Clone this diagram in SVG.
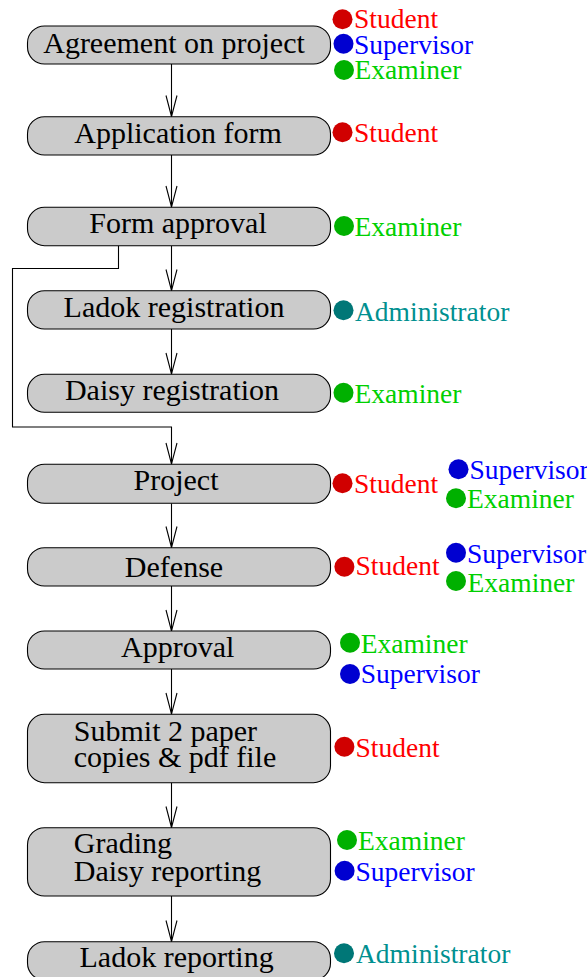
<svg xmlns="http://www.w3.org/2000/svg" width="587" height="977" viewBox="0 0 587 977">
<style>
.box{fill:#cbcbcb;stroke:#000;stroke-width:1.1}
.bt{font-family:"Liberation Serif","Times New Roman",serif;font-size:30px;fill:#000}
.lb{font-family:"Liberation Serif","Times New Roman",serif;font-size:27.5px}
.c{stroke:#000;stroke-width:1.1;fill:none}
.st{fill:#ff0000}.sc{fill:#d00000}
.su{fill:#0000ff}.sd{fill:#0000d0}
.ex{fill:#00d000}.ec{fill:#00b000}
.ad{fill:#009090}.ac{fill:#007777}
</style>
<defs>
<marker id="ah" markerUnits="userSpaceOnUse" markerWidth="24" markerHeight="14" viewBox="-22 -7 24 14" refX="0" refY="0" orient="auto">
<path d="M-21,-5.5 L0,0 L-21,5.5" fill="none" stroke="#000" stroke-width="1.1"/>
</marker>
</defs>
<g id="connectors">
<path class="c" d="M171.5,64 V116.5" marker-end="url(#ah)"/>
<path class="c" d="M171.5,155 V207" marker-end="url(#ah)"/>
<path class="c" d="M171.5,245.7 V290.5" marker-end="url(#ah)"/>
<path class="c" d="M171.5,329 V374" marker-end="url(#ah)"/>
<path class="c" d="M118.5,245.7 V268.5 H12.5 V427 H171.5 V464" marker-end="url(#ah)"/>
<path class="c" d="M171.5,503.3 V547.5" marker-end="url(#ah)"/>
<path class="c" d="M171.5,586 V631" marker-end="url(#ah)"/>
<path class="c" d="M171.5,669 V714" marker-end="url(#ah)"/>
<path class="c" d="M171.5,782.7 V827.5" marker-end="url(#ah)"/>
<path class="c" d="M171.5,896 V941.5" marker-end="url(#ah)"/>
</g>
<g id="n1">
<rect class="box" x="27.5" y="26" width="303" height="38" rx="17"/>
<text class="bt" x="174" y="52.7" text-anchor="middle">Agreement on project</text>
<circle class="sc" cx="342.5" cy="19.3" r="10"/><text class="lb st" x="354" y="28.3">Student</text>
<circle class="sd" cx="343.5" cy="43.7" r="10"/><text class="lb su" x="354" y="53.5">Supervisor</text>
<circle class="ec" cx="344" cy="70" r="10"/><text class="lb ex" x="354.5" y="79.3">Examiner</text>
</g>
<g id="n2">
<rect class="box" x="27.5" y="116.7" width="303" height="38.3" rx="17"/>
<text class="bt" x="178" y="142.7" text-anchor="middle">Application form</text>
<circle class="sc" cx="342.5" cy="132.3" r="10"/><text class="lb st" x="354" y="141.7">Student</text>
</g>
<g id="n3">
<rect class="box" x="27.5" y="207.3" width="303" height="38.4" rx="17"/>
<text class="bt" x="178" y="233.3" text-anchor="middle">Form approval</text>
<circle class="ec" cx="344" cy="226" r="10"/><text class="lb ex" x="354.5" y="236">Examiner</text>
</g>
<g id="n4">
<rect class="box" x="27.5" y="290.7" width="303" height="38.3" rx="17"/>
<text class="bt" x="174" y="316.7" text-anchor="middle">Ladok registration</text>
<circle class="ac" cx="343.5" cy="310.3" r="10"/><text class="lb ad" x="355" y="320.7">Administrator</text>
</g>
<g id="n5">
<rect class="box" x="27.5" y="374.3" width="303" height="38" rx="17"/>
<text class="bt" x="172" y="400" text-anchor="middle">Daisy registration</text>
<circle class="ec" cx="343.5" cy="392.7" r="10"/><text class="lb ex" x="354.5" y="402.7">Examiner</text>
</g>
<g id="n6">
<rect class="box" x="27.5" y="464.3" width="303" height="39" rx="17"/>
<text class="bt" x="176" y="490" text-anchor="middle">Project</text>
<circle class="sc" cx="342.5" cy="483.3" r="10"/><text class="lb st" x="354" y="493.3">Student</text>
<circle class="sd" cx="458.5" cy="469.3" r="10"/><text class="lb su" x="469.5" y="479.3">Supervisor</text>
<circle class="ec" cx="456" cy="498.3" r="10"/><text class="lb ex" x="467" y="507.7">Examiner</text>
</g>
<g id="n7">
<rect class="box" x="27.5" y="547.7" width="303" height="38.3" rx="17"/>
<text class="bt" x="174" y="577.3" text-anchor="middle">Defense</text>
<circle class="sc" cx="344.4" cy="566.7" r="10"/><text class="lb st" x="355.5" y="575.3">Student</text>
<circle class="sd" cx="456" cy="552.7" r="10"/><text class="lb su" x="467" y="562.7">Supervisor</text>
<circle class="ec" cx="456" cy="581" r="10"/><text class="lb ex" x="467.5" y="591.7">Examiner</text>
</g>
<g id="n8">
<rect class="box" x="27.5" y="631" width="303" height="38" rx="17"/>
<text class="bt" x="177.7" y="657.3" text-anchor="middle">Approval</text>
<circle class="ec" cx="350" cy="642.7" r="10"/><text class="lb ex" x="360.7" y="652.7">Examiner</text>
<circle class="sd" cx="350" cy="674" r="10"/><text class="lb su" x="360.7" y="683.3">Supervisor</text>
</g>
<g id="n9">
<rect class="box" x="27.5" y="714.3" width="303" height="68.4" rx="17"/>
<text class="bt" x="73.8" y="740.7">Submit 2 paper</text>
<text class="bt" x="73.8" y="767">copies &amp; pdf file</text>
<circle class="sc" cx="344.4" cy="746.7" r="10"/><text class="lb st" x="355.5" y="757.3">Student</text>
</g>
<g id="n10">
<rect class="box" x="27.5" y="827.7" width="303" height="68.3" rx="17"/>
<text class="bt" x="73.8" y="853.3">Grading</text>
<text class="bt" x="73.8" y="880.7">Daisy reporting</text>
<circle class="ec" cx="347" cy="840" r="10"/><text class="lb ex" x="358" y="850">Examiner</text>
<circle class="sd" cx="344.6" cy="870.7" r="10"/><text class="lb su" x="355.5" y="880.7">Supervisor</text>
</g>
<g id="n11">
<rect class="box" x="27.5" y="941.7" width="303" height="38.3" rx="17"/>
<text class="bt" x="176.6" y="967.3" text-anchor="middle">Ladok reporting</text>
<circle class="ac" cx="344" cy="953.3" r="10"/><text class="lb ad" x="356" y="962.7">Administrator</text>
</g>
</svg>
